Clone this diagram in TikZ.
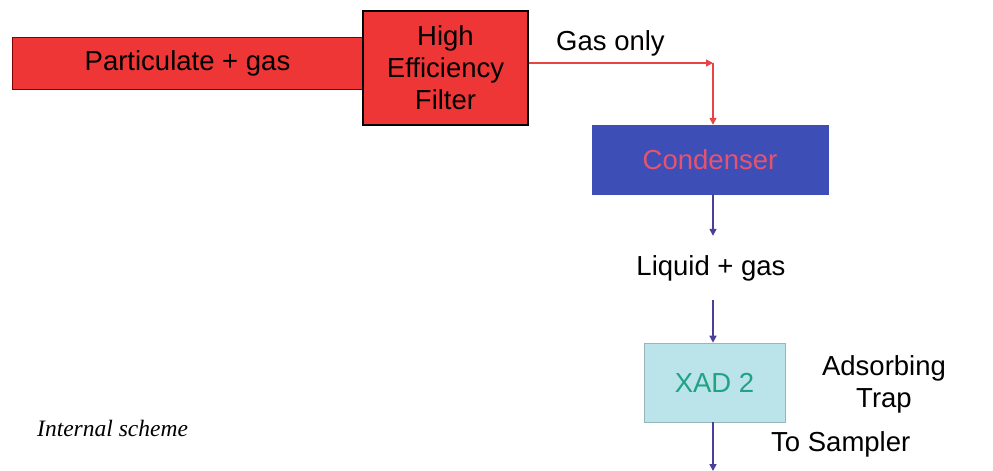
\documentclass[tikz,border=0pt]{standalone}
\usepackage{fontspec}
\setmainfont{Liberation Sans}
\newfontfamily\notefont{Liberation Serif}
\usetikzlibrary{arrows.meta}

\definecolor{filtred}{HTML}{EE3636}
\definecolor{condblue}{HTML}{3D4FB6}
\definecolor{condtext}{HTML}{E5536F}
\definecolor{xadfill}{HTML}{BAE3EA}
\definecolor{xadtext}{HTML}{1FA383}
\definecolor{flowblue}{HTML}{4B3F9C}
\definecolor{gasred}{HTML}{E84444}

\tikzset{
	box/.style={draw,inner sep=0pt,align=center,font=\fontsize{27.5}{32}\selectfont},
	flow/.style={line width=1.5pt,-{Triangle[length=7pt,width=7pt]}},
	lbl/.style={font=\fontsize{27.5}{32}\selectfont,align=center,inner sep=0pt}
}

\begin{document}
\begin{tikzpicture}[x=1pt,y=-1pt]
	\useasboundingbox (0,0) rectangle (993,471);
	% inlet and filter
	\node[box,fill=filtred,draw=red!50!black,line width=0.8pt,minimum width=351pt,minimum height=52pt] (inlet) at (187.5,63) {Particulate + gas};
	\node[box,fill=filtred,line width=2.4pt,minimum width=165pt,minimum height=114pt] (filter) at (445.5,68) {High\\Efficiency\\Filter};
	\node[lbl,anchor=west] (gasonly) at (556,43) {Gas only};
	% condenser
	\node[box,fill=condblue,draw=condblue,text=condtext,minimum width=236pt,minimum height=69pt] (cond) at (710,159.5) {Condenser};
	\coordinate (bend) at (713,63);
	\draw[flow,gasred] (filter.east |- bend) -- (bend);
	\draw[flow,gasred] (bend) -- (cond.north -| bend);
	% liquid + gas
	\node[lbl,minimum height=64pt] (liq) at (711,268) {Liquid + gas};
	\draw[flow,flowblue] (cond.south -| bend) -- (liq.north -| bend);
	% trap
	\node[box,fill=xadfill,draw=xadfill!80!black,line width=0.6pt,text=xadtext,minimum width=141pt,minimum height=79pt] (xad) at (714.5,382.5) {XAD 2};
	\draw[flow,flowblue] (liq.south -| bend) -- (xad.north -| bend);
	\node[lbl] (trap) at (884,384) {Adsorbing\\Trap};
	\node[lbl,anchor=west] (sampler) at (771,444) {To Sampler};
	\coordinate (out) at (713,471);
	\draw[flow,flowblue] (xad.south -| out) -- (out);
	% note
	\node[anchor=west,inner sep=0pt,font=\notefont\itshape\fontsize{23.5}{26}\selectfont] (note) at (37,428) {Internal scheme};
\end{tikzpicture}
\end{document}
